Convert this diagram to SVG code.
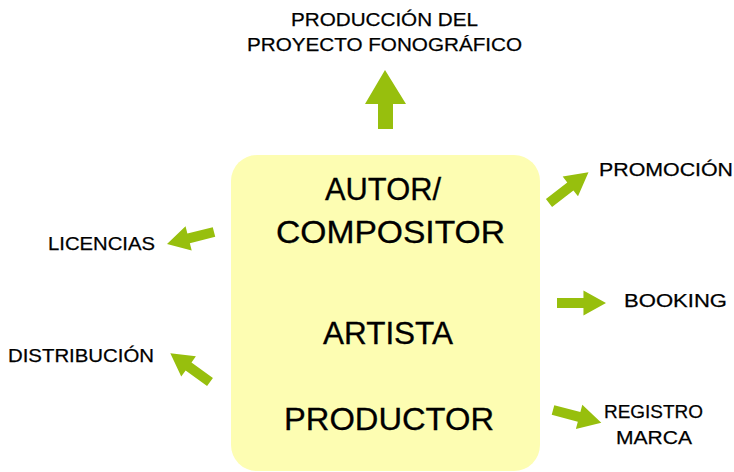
<svg xmlns="http://www.w3.org/2000/svg" width="734" height="472" viewBox="0 0 734 472">
<style>
.big{font-family:"Liberation Sans",Arial,sans-serif;font-size:31px;fill:#000;text-anchor:middle;stroke:#000;stroke-width:0.3}
.lbl{font-family:"Liberation Sans",Arial,sans-serif;font-size:19px;fill:#000;stroke:#000;stroke-width:0.25}
.arr{fill:#97BF0D}
</style>
<defs>
<polygon id="a" points="0,-5 27,-5 27,-12.5 50,0 27,12.5 27,5 0,5"/>
</defs>
<rect width="734" height="472" fill="#fff"/>
<g id="center">
<rect x="231" y="155" width="309" height="316" rx="26" fill="#FDFDB2"/>
<text class="big" x="383" y="200" textLength="116" lengthAdjust="spacingAndGlyphs">AUTOR/</text>
<text class="big" x="390.5" y="243" textLength="229" lengthAdjust="spacingAndGlyphs">COMPOSITOR</text>
<text class="big" x="388" y="344" textLength="130" lengthAdjust="spacingAndGlyphs">ARTISTA</text>
<text class="big" x="389" y="430" textLength="210" lengthAdjust="spacingAndGlyphs">PRODUCTOR</text>
</g>
<g id="produccion"><text class="lbl" x="384.5" y="26" text-anchor="middle" textLength="187" lengthAdjust="spacingAndGlyphs">PRODUCCIÓN DEL</text><text class="lbl" x="384.5" y="51" text-anchor="middle" textLength="275" lengthAdjust="spacingAndGlyphs">PROYECTO FONOGRÁFICO</text></g>
<g id="promocion"><text class="lbl" x="599" y="176" textLength="134" lengthAdjust="spacingAndGlyphs">PROMOCIÓN</text></g>
<g id="licencias"><text class="lbl" x="48" y="250" textLength="107" lengthAdjust="spacingAndGlyphs">LICENCIAS</text></g>
<g id="distribucion"><text class="lbl" x="8" y="362" textLength="146" lengthAdjust="spacingAndGlyphs">DISTRIBUCIÓN</text></g>
<g id="booking"><text class="lbl" x="624" y="307" textLength="103" lengthAdjust="spacingAndGlyphs">BOOKING</text></g>
<g id="registro"><text class="lbl" x="653.5" y="418" text-anchor="middle" textLength="99" lengthAdjust="spacingAndGlyphs">REGISTRO</text><text class="lbl" x="654" y="444" text-anchor="middle" textLength="76" lengthAdjust="spacingAndGlyphs">MARCA</text></g>
<g id="connectors" class="arr">
<polygon points="378,129 378,104 365,104 385,70 406,104 393,104 393,129"/>
<use href="#a" transform="translate(549,203) rotate(-37.8)"/>
<use href="#a" transform="translate(214,232) rotate(165.7) scale(0.97,1)"/>
<use href="#a" transform="translate(210,382) rotate(-144.1) scale(0.98,1)"/>
<use href="#a" transform="translate(557,303) scale(0.98,1)"/>
<use href="#a" transform="translate(553,410) rotate(14.9)"/>
</g>
</svg>
